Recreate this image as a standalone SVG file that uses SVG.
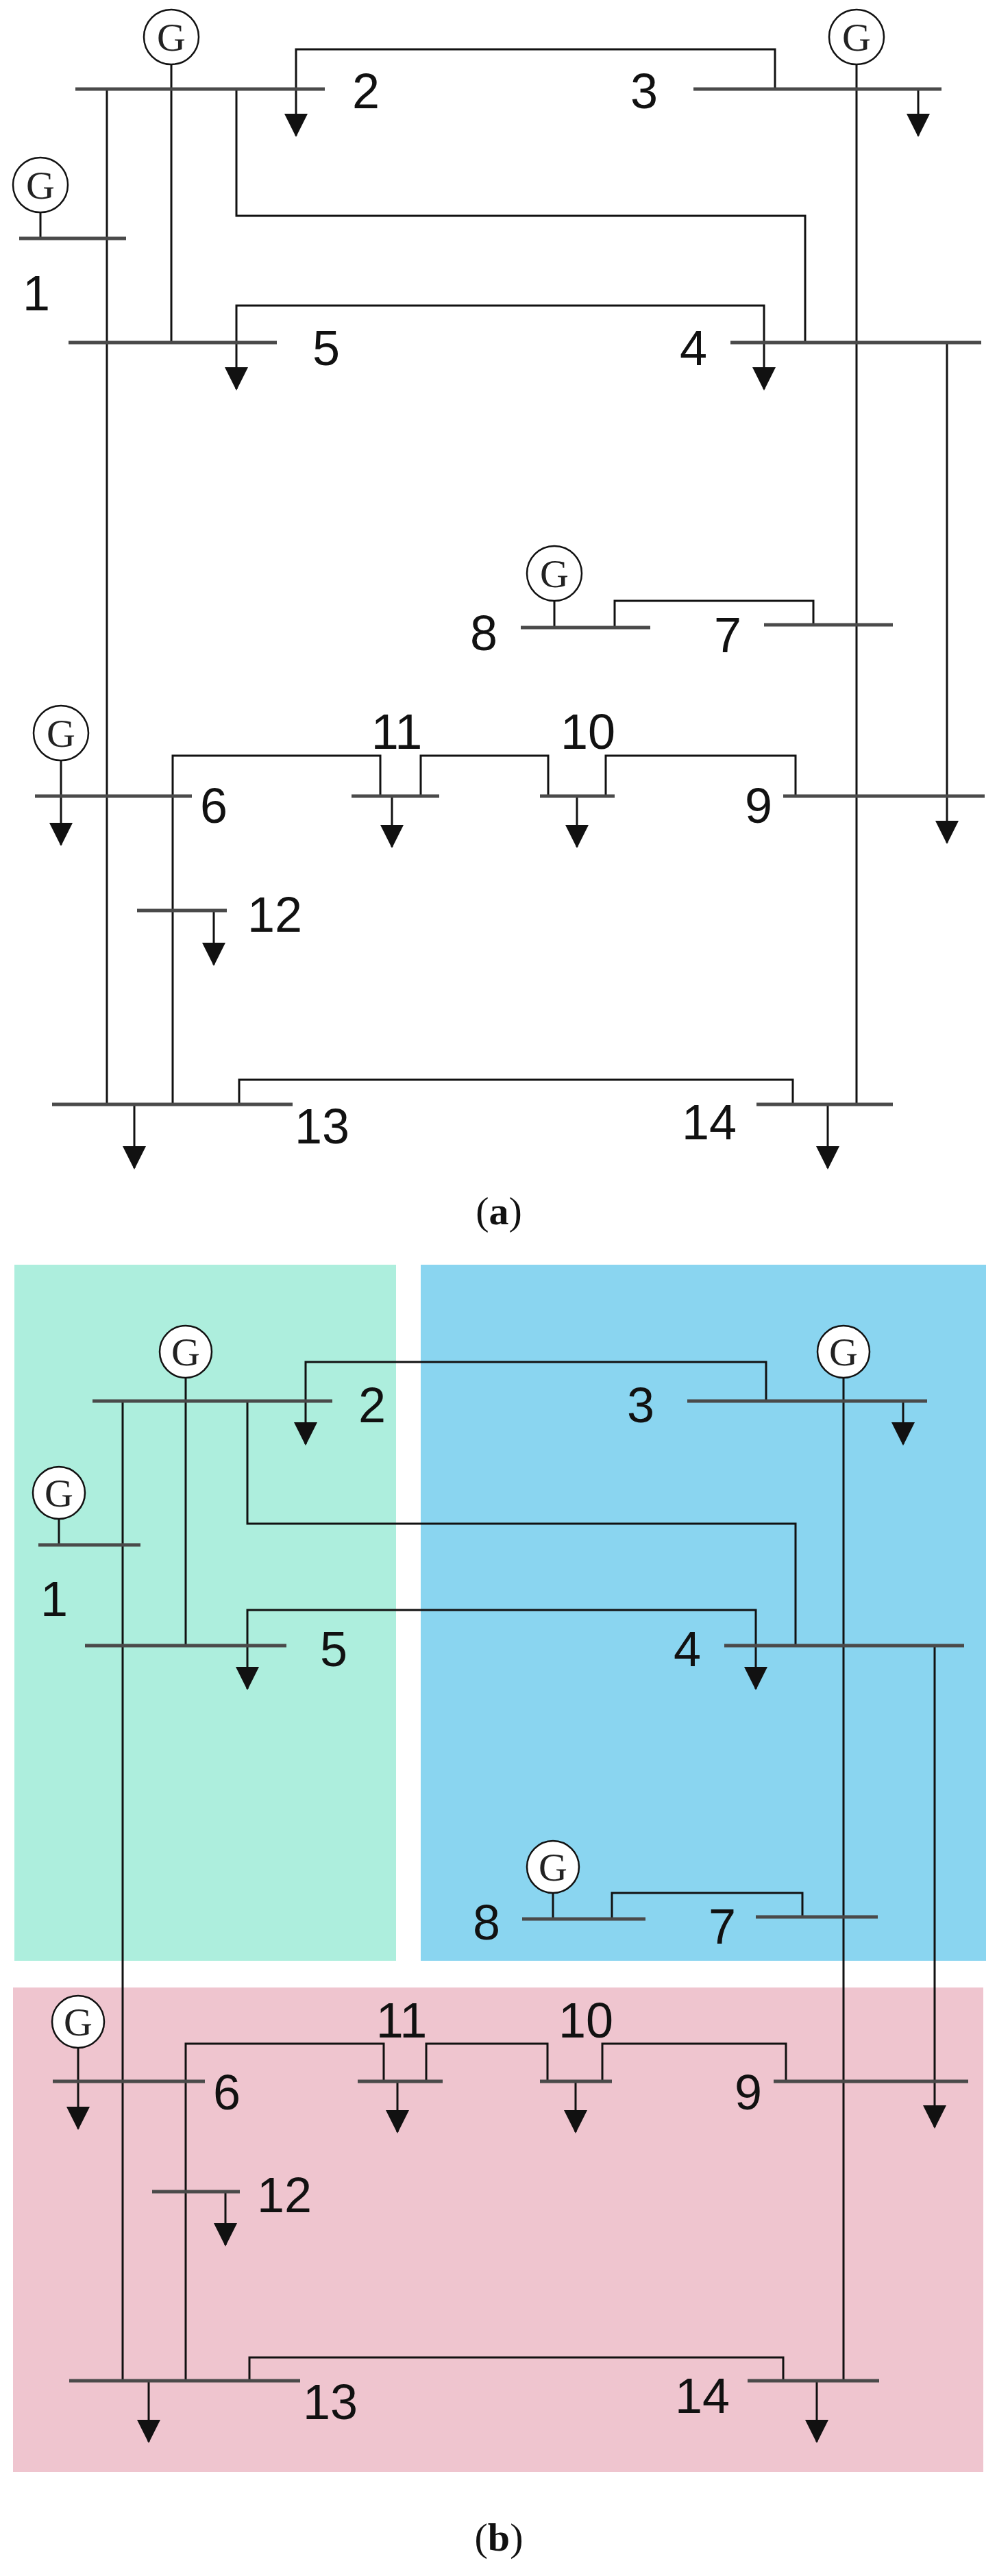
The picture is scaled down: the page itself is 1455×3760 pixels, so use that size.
<svg xmlns="http://www.w3.org/2000/svg" xmlns:xlink="http://www.w3.org/1999/xlink" width="1455" height="3760" viewBox="0 0 1455 3760">
<style>
.bus{stroke:#4a4a4a;stroke-width:5;fill:none}
.ln{stroke:#111;stroke-width:3;fill:none}
.gen{stroke:#111;stroke-width:2.5;fill:#fff}
.gt{font-family:"Liberation Serif",serif;font-size:58px;fill:#222;text-anchor:middle}
.lb{font-family:"Liberation Sans",sans-serif;font-size:72px;fill:#111;text-anchor:middle}
.cap{font-family:"Liberation Serif",serif;font-size:58px;fill:#111;text-anchor:middle}
</style>
<defs>
<path id="ah" d="M-17,-34 L17,-34 L0,0 Z" fill="#111"/>
</defs>
<rect width="1455" height="3760" fill="#fff"/>
<!-- panel b backgrounds -->
<rect x="21" y="1846" width="557" height="1016" fill="#ADEEDD"/>
<rect x="614" y="1846" width="825" height="1016" fill="#8AD5F0"/>
<rect x="19" y="2901" width="1416" height="707" fill="#EFC5CF"/>

<!-- ===== Panel (a) ===== -->
<g id="connectors-a">
<path class="ln" d="M156,130 V1612"/>
<path class="ln" d="M250,94 V500"/>
<path class="ln" d="M345,130 V315 H1175 V500"/>
<path class="ln" d="M432,198 V72 H1131 V130"/>
<path class="ln" d="M1250,94 V1612"/>
<path class="ln" d="M1340,130 V198"/>
<path class="ln" d="M345,568 V446 H1115 V568"/>
<path class="ln" d="M1382,500 V1230"/>
<path class="ln" d="M59,310 V348"/>
<path class="ln" d="M809,877 V916"/>
<path class="ln" d="M897,916 V877 H1187 V912"/>
<path class="ln" d="M89,1110 V1233"/>
<path class="ln" d="M252,1612 V1103 H555 V1162"/>
<path class="ln" d="M572,1162 V1236"/>
<path class="ln" d="M614,1162 V1103 H800 V1162"/>
<path class="ln" d="M842,1162 V1236"/>
<path class="ln" d="M884,1162 V1103 H1161 V1162"/>
<path class="ln" d="M312,1329 V1408"/>
<path class="ln" d="M196,1612 V1705"/>
<path class="ln" d="M349,1612 V1576 H1157 V1612"/>
<path class="ln" d="M1208,1612 V1705"/>
<use xlink:href="#ah" x="432" y="200"/>
<use xlink:href="#ah" x="1340" y="200"/>
<use xlink:href="#ah" x="345" y="570"/>
<use xlink:href="#ah" x="1115" y="570"/>
<use xlink:href="#ah" x="1382" y="1232"/>
<use xlink:href="#ah" x="89" y="1235"/>
<use xlink:href="#ah" x="572" y="1238"/>
<use xlink:href="#ah" x="842" y="1238"/>
<use xlink:href="#ah" x="312" y="1410"/>
<use xlink:href="#ah" x="196" y="1707"/>
<use xlink:href="#ah" x="1208" y="1707"/>
</g>
<g id="a-bus1"><path class="bus" d="M28,348 H184"/><text class="lb" x="53" y="453">1</text></g>
<g id="a-bus2"><path class="bus" d="M110,130 H474"/><text class="lb" x="534" y="158">2</text></g>
<g id="a-bus3"><path class="bus" d="M1012,130 H1374"/><text class="lb" x="940" y="158">3</text></g>
<g id="a-bus4"><path class="bus" d="M1066,500 H1432"/><text class="lb" x="1012" y="533">4</text></g>
<g id="a-bus5"><path class="bus" d="M100,500 H404"/><text class="lb" x="476" y="533">5</text></g>
<g id="a-bus6"><path class="bus" d="M51,1162 H280"/><text class="lb" x="312" y="1201">6</text></g>
<g id="a-bus7"><path class="bus" d="M1115,912 H1303"/><text class="lb" x="1062" y="952">7</text></g>
<g id="a-bus8"><path class="bus" d="M760,916 H949"/><text class="lb" x="706" y="949">8</text></g>
<g id="a-bus9"><path class="bus" d="M1143,1162 H1437"/><text class="lb" x="1107" y="1201">9</text></g>
<g id="a-bus10"><path class="bus" d="M788,1162 H897"/><text class="lb" x="858" y="1093">10</text></g>
<g id="a-bus11"><path class="bus" d="M513,1162 H641"/><text class="lb" x="579" y="1093">11</text></g>
<g id="a-bus12"><path class="bus" d="M200,1329 H331"/><text class="lb" x="401" y="1360">12</text></g>
<g id="a-bus13"><path class="bus" d="M76,1612 H427"/><text class="lb" x="470" y="1669">13</text></g>
<g id="a-bus14"><path class="bus" d="M1104,1612 H1303"/><text class="lb" x="1035" y="1663">14</text></g>
<g id="a-g2"><circle class="gen" cx="250" cy="54" r="40"/><text class="gt" x="250" y="74">G</text></g>
<g id="a-g3"><circle class="gen" cx="1250" cy="54" r="40"/><text class="gt" x="1250" y="74">G</text></g>
<g id="a-g1"><circle class="gen" cx="59" cy="270" r="40"/><text class="gt" x="59" y="290">G</text></g>
<g id="a-g8"><circle class="gen" cx="809" cy="837" r="40"/><text class="gt" x="809" y="857">G</text></g>
<g id="a-g6"><circle class="gen" cx="89" cy="1070" r="40"/><text class="gt" x="89" y="1090">G</text></g>
<text class="cap" x="728" y="1787">(<tspan font-weight="bold">a</tspan>)</text>

<!-- ===== Panel (b) ===== -->
<g id="connectors-b">
<path class="ln" d="M179,2045 V3475"/>
<path class="ln" d="M271,2011 V2402"/>
<path class="ln" d="M361,2045 V2224 H1161 V2402"/>
<path class="ln" d="M446,2108 V1988 H1118 V2045"/>
<path class="ln" d="M1231,2011 V3475"/>
<path class="ln" d="M1318,2045 V2108"/>
<path class="ln" d="M361,2465 V2350 H1103 V2465"/>
<path class="ln" d="M1364,2402 V3105"/>
<path class="ln" d="M86,2217 V2255"/>
<path class="ln" d="M807,2763 V2801"/>
<path class="ln" d="M893,2801 V2763 H1171 V2798"/>
<path class="ln" d="M114,2989 V3107"/>
<path class="ln" d="M271,3475 V2983 H560 V3038"/>
<path class="ln" d="M580,3038 V3112"/>
<path class="ln" d="M622,3038 V2983 H799 V3038"/>
<path class="ln" d="M840,3038 V3112"/>
<path class="ln" d="M879,3038 V2983 H1147 V3038"/>
<path class="ln" d="M329,3199 V3277"/>
<path class="ln" d="M217,3475 V3564"/>
<path class="ln" d="M364,3475 V3441 H1143 V3475"/>
<path class="ln" d="M1192,3475 V3564"/>
<use xlink:href="#ah" x="446" y="2110"/>
<use xlink:href="#ah" x="1318" y="2110"/>
<use xlink:href="#ah" x="361" y="2467"/>
<use xlink:href="#ah" x="1103" y="2467"/>
<use xlink:href="#ah" x="1364" y="3107"/>
<use xlink:href="#ah" x="114" y="3109"/>
<use xlink:href="#ah" x="580" y="3114"/>
<use xlink:href="#ah" x="840" y="3114"/>
<use xlink:href="#ah" x="329" y="3279"/>
<use xlink:href="#ah" x="217" y="3566"/>
<use xlink:href="#ah" x="1192" y="3566"/>
</g>
<g id="b-bus1"><path class="bus" d="M56,2255 H205"/><text class="lb" x="79" y="2359">1</text></g>
<g id="b-bus2"><path class="bus" d="M135,2045 H485"/><text class="lb" x="543" y="2076">2</text></g>
<g id="b-bus3"><path class="bus" d="M1003,2045 H1353"/><text class="lb" x="935" y="2076">3</text></g>
<g id="b-bus4"><path class="bus" d="M1057,2402 H1407"/><text class="lb" x="1003" y="2432">4</text></g>
<g id="b-bus5"><path class="bus" d="M124,2402 H418"/><text class="lb" x="487" y="2432">5</text></g>
<g id="b-bus6"><path class="bus" d="M77,3038 H299"/><text class="lb" x="331" y="3079">6</text></g>
<g id="b-bus7"><path class="bus" d="M1103,2798 H1281"/><text class="lb" x="1054" y="2837">7</text></g>
<g id="b-bus8"><path class="bus" d="M762,2801 H942"/><text class="lb" x="710" y="2831">8</text></g>
<g id="b-bus9"><path class="bus" d="M1129,3038 H1413"/><text class="lb" x="1092" y="3079">9</text></g>
<g id="b-bus10"><path class="bus" d="M788,3038 H893"/><text class="lb" x="855" y="2974">10</text></g>
<g id="b-bus11"><path class="bus" d="M522,3038 H646"/><text class="lb" x="586" y="2974">11</text></g>
<g id="b-bus12"><path class="bus" d="M222,3199 H350"/><text class="lb" x="415" y="3229">12</text></g>
<g id="b-bus13"><path class="bus" d="M101,3475 H438"/><text class="lb" x="482" y="3531">13</text></g>
<g id="b-bus14"><path class="bus" d="M1091,3475 H1283"/><text class="lb" x="1025" y="3522">14</text></g>
<g id="b-g2"><circle class="gen" cx="271" cy="1973" r="38"/><text class="gt" x="271" y="1993">G</text></g>
<g id="b-g3"><circle class="gen" cx="1231" cy="1973" r="38"/><text class="gt" x="1231" y="1993">G</text></g>
<g id="b-g1"><circle class="gen" cx="86" cy="2179" r="38"/><text class="gt" x="86" y="2199">G</text></g>
<g id="b-g8"><circle class="gen" cx="807" cy="2725" r="38"/><text class="gt" x="807" y="2745">G</text></g>
<g id="b-g6"><circle class="gen" cx="114" cy="2951" r="38"/><text class="gt" x="114" y="2971">G</text></g>
<text class="cap" x="728" y="3723">(<tspan font-weight="bold">b</tspan>)</text>
</svg>
